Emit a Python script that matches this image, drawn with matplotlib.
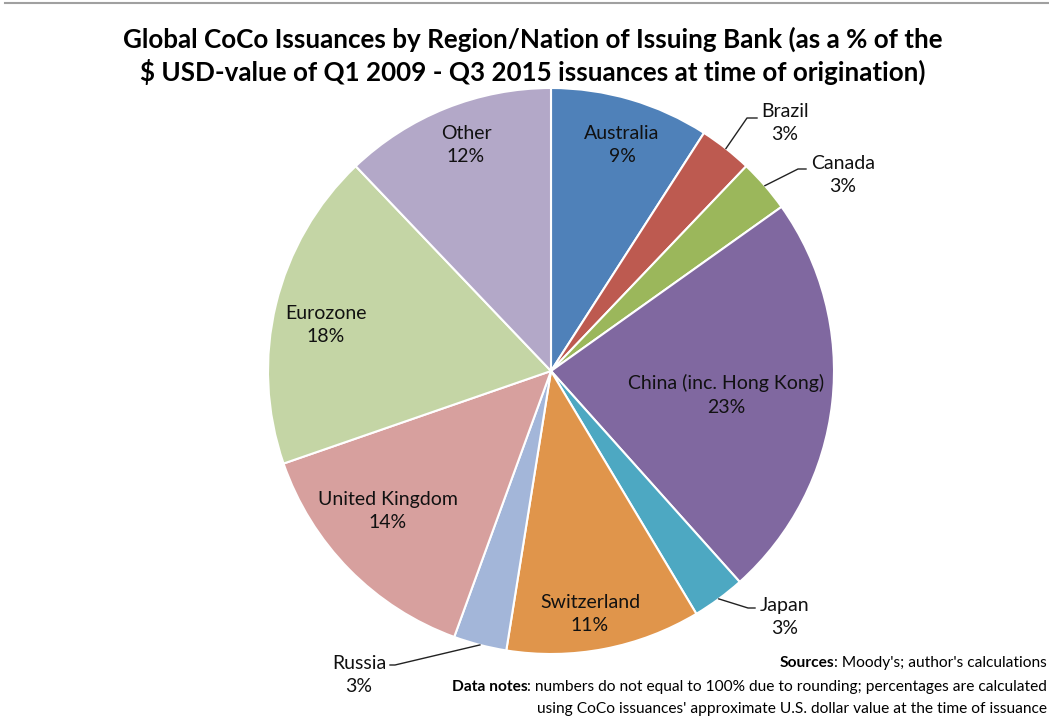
import matplotlib
matplotlib.use("Agg")
import matplotlib.pyplot as plt
import numpy as np

plt.rcParams['font.family'] = ['Lato', 'DejaVu Sans']

regions = ["Australia", "Brazil", "Canada", "China (inc. Hong Kong)", "Japan",
           "Switzerland", "Russia", "United Kingdom", "Eurozone", "Other"]
shares = [9, 3, 3, 23, 3, 11, 3, 14, 18, 12]
colors = ["#4F81B9", "#BD5A50", "#9BB75B", "#8068A0", "#4DA8C2",
          "#E0954B", "#A3B6D9", "#D7A09E", "#C4D5A5", "#B3A8C8"]

# pixel layout of the pie (figure is 1049 x 719 at dpi 100)
W, H = 1049, 719
CX, CY, R = 551, 371, 283


def px(x, y):
    return ((x - CX) / R, (CY - y) / R)


fig = plt.figure(figsize=(W / 100, H / 100), dpi=100)
ax = fig.add_axes([0, 0, 1, 1])

wedges, _ = ax.pie(shares, colors=colors, startangle=90, counterclock=False,
                   radius=1, center=(0, 0), frame=True,
                   wedgeprops=dict(edgecolor="white", linewidth=1.5))
ax.set_xlim(-CX / R, (W - CX) / R)
ax.set_ylim(-(H - CY) / R, CY / R)
ax.axis("off")

# labels inside the slices
inside = {
    "Australia": (622, 145),
    "China (inc. Hong Kong)": (726, 395),
    "Switzerland": (590, 614),
    "United Kingdom": (388, 511),
    "Eurozone": (326, 325),
    "Other": (466, 145),
}
# labels outside with leader lines: (text position, elbow, line end)
outside = {
    "Brazil": ((785, 123), (747, 118), (757, 118)),
    "Canada": ((843, 175), (798, 169), (806, 169)),
    "Japan": ((785, 617), (748, 608), (755, 608)),
    "Russia": ((359, 675), (395, 665), (390, 665)),
}

total = sum(shares)
for name, val, w in zip(regions, shares, wedges):
    txt = f"{name}\n{val / total * 100:.0f}%"
    if name in inside:
        x, y = px(*inside[name])
    else:
        tpos, elbow, end = outside[name]
        mid = np.deg2rad((w.theta1 + w.theta2) / 2)
        start = (np.cos(mid), np.sin(mid))
        e1, e2 = px(*elbow), px(*end)
        ax.plot([start[0], e1[0], e2[0]], [start[1], e1[1], e2[1]],
                color="#222222", lw=1)
        x, y = px(*tpos)
    ax.text(x, y, txt, ha="center", va="center", fontsize=14,
            linespacing=1.45, color="#111111")

fig.text(533 / W, 1 - 56 / H,
         "Global CoCo Issuances by Region/Nation of Issuing Bank (as a % of the\n"
         "$ USD-value of Q1 2009 - Q3 2015 issuances at time of origination)",
         ha="center", va="center", fontsize=18.7, fontweight="bold",
         linespacing=1.32)

# top edge of the chart frame
fig.add_artist(plt.Line2D([5 / W, 1], [1 - 3 / H, 1 - 3 / H],
                          transform=fig.transFigure, color="#a0a0a0", lw=1.5))

# footnotes, right aligned with a bold lead-in
notes = [
    ("Sources", ": Moody's; author's calculations", 663),
    ("Data notes", ": numbers do not equal to 100% due to rounding; percentages are calculated", 687),
    ("", "using CoCo issuances' approximate U.S. dollar value at the time of issuance", 709),
]
fig.canvas.draw()
renderer = fig.canvas.get_renderer()
xr = 1047 / W
for bold, rest, y in notes:
    t = fig.text(xr, 1 - y / H, rest, ha="right", va="center", fontsize=11.2)
    if bold:
        bb = t.get_window_extent(renderer)
        fig.text(bb.x0 / W, 1 - y / H, bold, ha="right", va="center",
                 fontsize=11.2, fontweight="bold")

fig.savefig("out.png", dpi=100)
